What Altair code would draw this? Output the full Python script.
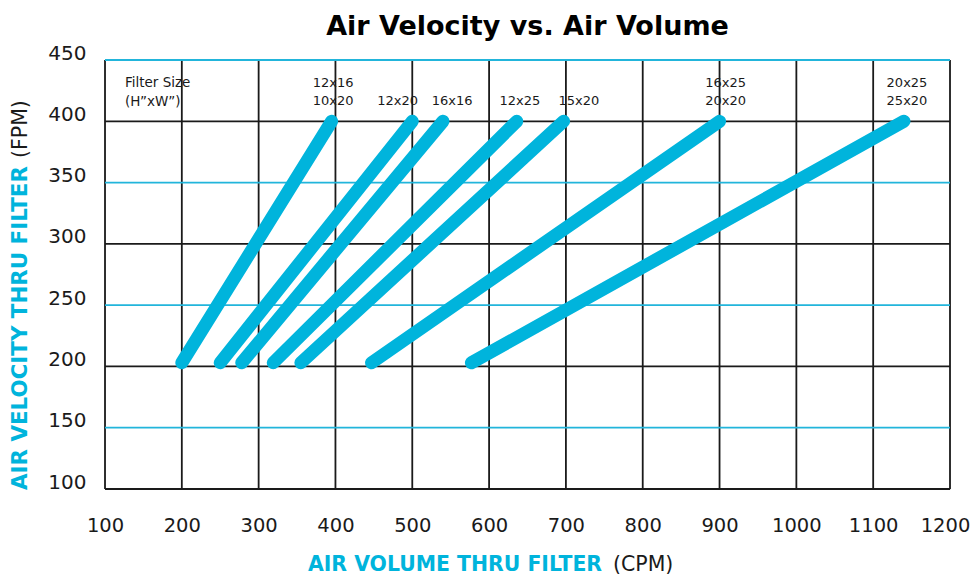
import altair as alt
import pandas as pd

# ---- data ----
series = ["12x16 / 10x20", "12x20", "16x16", "12x25", "15x20", "16x25 / 20x20", "20x25 / 25x20"]
cfm_start = [200, 250, 278, 319, 355, 447, 577]
cfm_end = [395, 500, 540, 636, 697, 900, 1140]
fpm_start = [203, 203, 203, 203, 203, 203, 203]
fpm_end = [400, 400, 400, 400, 400, 400, 400]

label_line1 = ["12x16", "12x20", "16x16", "12x25", "15x20", "16x25", "20x25"]
label_line2 = ["10x20", "", "", "", "", "20x20", "25x20"]
label_x = [397, 481, 552, 640, 717, 908, 1144]

x_ticks = [100, 200, 300, 400, 500, 600, 700, 800, 900, 1000, 1100, 1200]
y_ticks = [100, 150, 200, 250, 300, 350, 400, 450]
v_grid = [200, 300, 400, 500, 600, 700, 800, 900, 1000, 1100]
h_grid_black = [200, 300, 400]
h_grid_cyan = [150, 250, 350, 450]
frame_v = [100, 1200]
frame_h = [100]

CYAN = "#00b4dc"
GRID_CYAN = "#22b5db"
BLACK = "#1a1a1a"
FONT = "DejaVu Sans"

W, H = 845, 429

xs = alt.Scale(domain=[100, 1200], nice=False, zero=False)
ys = alt.Scale(domain=[100, 450], nice=False, zero=False)

rows = []
for s, x0, x1, y0, y1 in zip(series, cfm_start, cfm_end, fpm_start, fpm_end):
    rows.append({"series": s, "cfm": x0, "fpm": y0, "o": 0})
    rows.append({"series": s, "cfm": x1, "fpm": y1, "o": 1})
lines_df = pd.DataFrame(rows)

xaxis = alt.Axis(values=x_ticks, title=None, grid=False, domain=False, ticks=False, format="d",
                 labelFont=FONT, labelFontSize=19.5, labelColor=BLACK, labelPadding=27,
                 labelFlush=False,
                 labelOffset=alt.ExprRef("datum.value == 1200 ? -5 : 0"))
yaxis = alt.Axis(values=y_ticks, title=None, grid=False, domain=False, ticks=False, format="d",
                 labelFont=FONT, labelFontSize=20, labelColor=BLACK, labelPadding=19,
                 labelOffset=-7)

base_axes = alt.Chart(pd.DataFrame({"cfm": [100], "fpm": [100]})).mark_point(opacity=0).encode(
    x=alt.X("cfm:Q", scale=xs, axis=xaxis),
    y=alt.Y("fpm:Q", scale=ys, axis=yaxis),
)

vg = alt.Chart(pd.DataFrame({"v": v_grid + frame_v})).mark_rule(color=BLACK, strokeWidth=1.8).encode(
    x=alt.X("v:Q", scale=xs)
)
hb = alt.Chart(pd.DataFrame({"v": h_grid_black + frame_h})).mark_rule(color=BLACK, strokeWidth=1.8).encode(
    y=alt.Y("v:Q", scale=ys)
)
hc = alt.Chart(pd.DataFrame({"v": h_grid_cyan})).mark_rule(color=GRID_CYAN, strokeWidth=1.8).encode(
    y=alt.Y("v:Q", scale=ys)
)

lines = alt.Chart(lines_df).mark_line(color=CYAN, strokeWidth=13, strokeCap="round").encode(
    x=alt.X("cfm:Q", scale=xs),
    y=alt.Y("fpm:Q", scale=ys),
    detail="series:N",
    order="o:Q",
)

lab_df = pd.DataFrame({"x": label_x, "l1": label_line1, "l2": label_line2,
                       "has2": [1 if t else 0 for t in label_line2]})
lab_df["y1"] = [431.2 if h else 416.6 for h in lab_df["has2"]]
lab_df["y2"] = 416.6

lab1 = alt.Chart(lab_df).mark_text(font=FONT, fontSize=13, color=BLACK, align="center", baseline="middle").encode(
    x=alt.X("x:Q", scale=xs), y=alt.Y("y1:Q", scale=ys), text="l1:N"
)
lab2 = alt.Chart(lab_df[lab_df["has2"] == 1]).mark_text(font=FONT, fontSize=13, color=BLACK, align="center", baseline="middle").encode(
    x=alt.X("x:Q", scale=xs), y=alt.Y("y2:Q", scale=ys), text="l2:N"
)

fs_df = pd.DataFrame({"x": [126, 126], "y": [431.2, 416.0], "t": ["Filter Size", "(H\u201dxW\u201d)"]})
fs = alt.Chart(fs_df).mark_text(font=FONT, fontSize=13.5, color=BLACK, align="left", baseline="middle").encode(
    x=alt.X("x:Q", scale=xs), y=alt.Y("y:Q", scale=ys), text="t:N"
)

one = pd.DataFrame({"a": [0]})
ytitle_b = alt.Chart(one).mark_text(text="AIR VELOCITY THRU FILTER", font=FONT, fontSize=21.4, fontWeight="bold",
                                     color=CYAN, angle=270, align="left", baseline="middle").encode(
    x=alt.value(-84), y=alt.value(430))
ytitle_r = alt.Chart(one).mark_text(text="(FPM)", font=FONT, fontSize=20.5, color=BLACK,
                                     angle=270, align="left", baseline="middle").encode(
    x=alt.value(-84), y=alt.value(98))
xtitle_b = alt.Chart(one).mark_text(text="AIR VOLUME THRU FILTER", font=FONT, fontSize=20.4, fontWeight="bold",
                                     color=CYAN, align="left", baseline="middle").encode(
    x=alt.value(203), y=alt.value(505))
xtitle_r = alt.Chart(one).mark_text(text="(CPM)", font=FONT, fontSize=20.5, color=BLACK,
                                     align="left", baseline="middle").encode(
    x=alt.value(508), y=alt.value(505))

chart = alt.layer(base_axes, vg, hc, hb, lines, lab1, lab2, fs,
                  ytitle_b, ytitle_r, xtitle_b, xtitle_r).properties(
    width=W, height=H,
    title=alt.Title("Air Velocity vs. Air Volume", font=FONT, fontSize=27, fontWeight="bold",
                    color="#000000", anchor="middle", offset=2),
    autosize=alt.AutoSizeParams(type="none"),
    padding={"left": 97, "top": 52, "right": 20, "bottom": 88},
).configure_view(stroke=None).configure(background="white")

chart.save("out.html", embed_options={"renderer": "svg", "actions": False})
